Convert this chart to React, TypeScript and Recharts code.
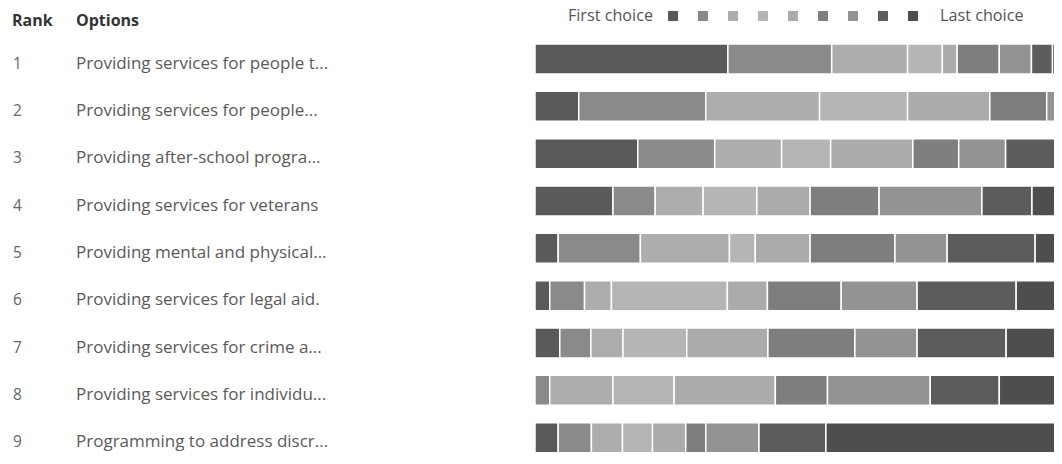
import React from "react"
import { BarChart, Bar, XAxis, YAxis } from "recharts"

const ranks = [1, 2, 3, 4, 5, 6, 7, 8, 9]
const options = [
	"Providing services for people t...",
	"Providing services for people...",
	"Providing after-school progra...",
	"Providing services for veterans",
	"Providing mental and physical...",
	"Providing services for legal aid.",
	"Providing services for crime a...",
	"Providing services for individu...",
	"Programming to address discr...",
]

// share of responses (%) per choice position, one entry per option
const choice1 = [36.6, 8.3, 19.5, 14.8, 4.4, 2.8, 4.7, 0, 4.4]
const choice2 = [19.7, 24.1, 14.6, 8.0, 15.6, 6.6, 5.9, 2.8, 6.3]
const choice3 = [14.4, 21.6, 12.7, 9.1, 16.9, 5.1, 6.1, 12.0, 5.9]
const choice4 = [6.6, 16.7, 9.3, 10.2, 4.9, 22.0, 12.1, 11.6, 5.7]
const choice5 = [2.8, 15.6, 15.6, 10.1, 10.4, 7.6, 15.4, 19.2, 6.3]
const choice6 = [8.0, 10.8, 8.7, 13.1, 16.1, 14.0, 16.5, 9.9, 3.8]
const choice7 = [6.1, 2.8, 8.9, 19.5, 9.9, 14.4, 11.8, 19.5, 10.1]
const choice8 = [4.0, 0, 9.9, 9.5, 16.7, 18.8, 16.9, 13.1, 12.7]
const choice9 = [1.8, 0, 0.8, 5.7, 5.1, 8.5, 10.6, 12.0, 44.8]

const choices = [choice1, choice2, choice3, choice4, choice5, choice6, choice7, choice8, choice9]
const choiceColors = [
	"#5a5a5a",
	"#8a8a8a",
	"#adadad",
	"#b5b5b5",
	"#ababab",
	"#7e7e7e",
	"#939393",
	"#5c5c5c",
	"#4e4e4e",
]

const data = ranks.map((rank, i) => {
	const row: Record<string, number | string> = { rank, option: options[i] }
	choices.forEach((arr, c) => {
		row[`c${c + 1}`] = arr[i]
	})
	return row
})

const font = '"Open Sans", "Noto Sans", sans-serif'

const OptionTick = (props: any) => {
	const { y, payload } = props
	return (
		<g>
			<text x={5} y={y} dy={10} fill="#666" fontSize={15.5} fontFamily={font}>
				{ranks[payload.index]}
			</text>
			<text x={68} y={y} dy={10} fill="#5a5a5a" fontSize={17} fontFamily={font}>
				{payload.value}
			</text>
		</g>
	)
}

const App = () => (
	<div style={{ position: "relative", width: 1054, height: 456, fontFamily: font }}>
		<div
			style={{
				position: "absolute",
				top: 1,
				left: 4,
				fontSize: 16,
				fontWeight: 700,
				color: "#333",
				whiteSpace: "nowrap",
			}}
		>
			Rank
		</div>
		<div
			style={{
				position: "absolute",
				top: 1,
				left: 68,
				fontSize: 16,
				fontWeight: 700,
				color: "#333",
				whiteSpace: "nowrap",
			}}
		>
			Options
		</div>
		<div
			style={{
				position: "absolute",
				top: -4,
				right: 1054 - 645,
				fontSize: 16.2,
				color: "#555",
				whiteSpace: "nowrap",
			}}
		>
			First choice
		</div>
		{choiceColors.map((c, i) => (
			<span
				key={`sw-${i}`}
				style={{
					position: "absolute",
					top: 3,
					left: 660 + i * 30,
					width: 10,
					height: 10,
					background: c,
				}}
			/>
		))}
		<div
			style={{
				position: "absolute",
				top: -4,
				left: 932,
				fontSize: 16.2,
				color: "#555",
				whiteSpace: "nowrap",
			}}
		>
			Last choice
		</div>
		<BarChart
			layout="vertical"
			width={1054}
			height={456}
			data={data}
			margin={{ top: 27, right: 0, bottom: 3, left: 0 }}
		>
			<XAxis type="number" hide domain={[0, 100]} allowDataOverflow />
			<YAxis
				type="category"
				dataKey="option"
				width={527}
				axisLine={false}
				tickLine={false}
				tick={<OptionTick />}
				interval={0}
			/>
			{choiceColors.map((color, i) => (
				<Bar
					key={`c${i + 1}`}
					dataKey={`c${i + 1}`}
					stackId="rank"
					fill={color}
					stroke="#fff"
					strokeWidth={1.5}
					barSize={30}
					isAnimationActive={false}
				/>
			))}
		</BarChart>
	</div>
)

export default App
